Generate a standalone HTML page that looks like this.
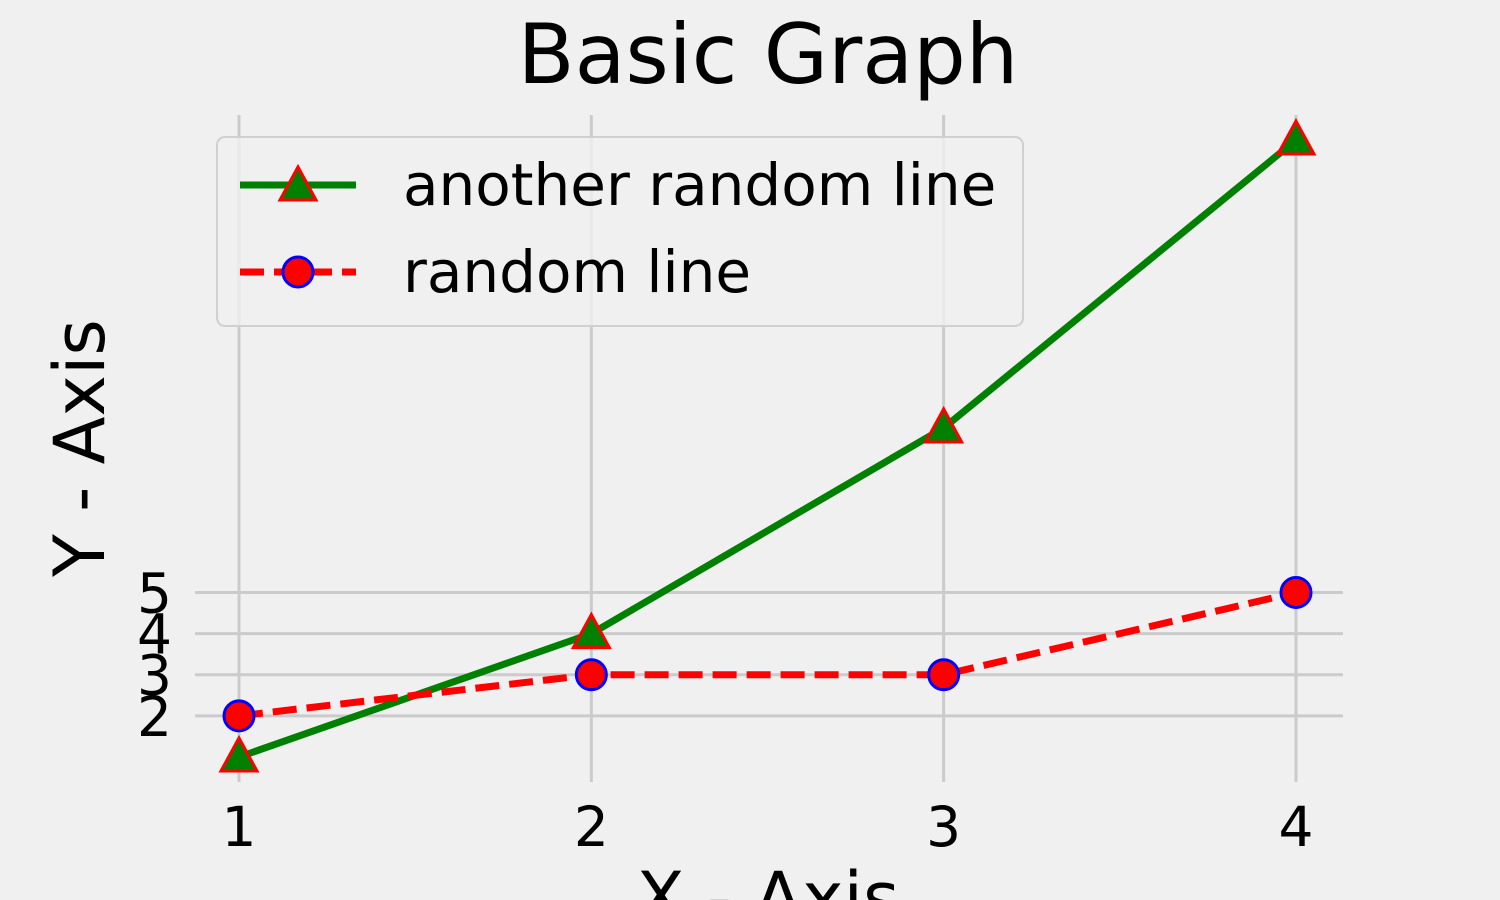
<!DOCTYPE html>
<html><head><meta charset="utf-8"><style>
body{margin:0;background:#f0f0f0;}
svg{display:block;font-family:"DejaVu Sans","Liberation Sans",sans-serif;}
</style></head><body>
<svg id="chart" width="1500" height="900">
<rect width="1500" height="900" fill="#f0f0f0"/>
<text x="768" y="83" font-size="83" text-anchor="middle">Basic Graph</text>
<g id="grid"></g><g id="ticks"></g><g id="series"></g>
<text x="0" y="0" font-size="70" text-anchor="middle" transform="translate(104,448) rotate(-90)">Y - Axis</text>
<text x="768" y="922" font-size="70" text-anchor="middle">X - Axis</text>
<g>
<rect x="217" y="137" width="806" height="189" rx="8" fill="#f0f0f0" fill-opacity="0.8" stroke="#d0d0d0" stroke-width="2"/>
<g>
<line x1="240" y1="185" x2="356" y2="185" stroke="green" stroke-width="7"/>
<polygon points="298,167 316,200 280,200" fill="green" stroke="red" stroke-width="3"/>
<text x="403" y="205" font-size="58">another random line</text></g>
<g>
<line x1="240" y1="272" x2="356" y2="272" stroke="red" stroke-width="7" stroke-dasharray="24,10"/>
<circle cx="298" cy="272" r="15" fill="red" stroke="blue" stroke-width="3"/>
<text x="403" y="292" font-size="58">random line</text></g>
</g>
</svg>
<script>
const xCats=[1,2,3,4];
const greenVals=[1,4,9,16];
const redVals=[2,3,3,5];
const yTicks=[2,3,4,5];
const xTicks=[1,2,3,4];
const NS="http://www.w3.org/2000/svg";
const sx=v=>239+(v-1)*352.33;
const sy=v=>757-(v-1)*41.13;
function mk(tag,attrs,parent){const e=document.createElementNS(NS,tag);for(const k in attrs)e.setAttribute(k,attrs[k]);document.getElementById(parent).appendChild(e);return e;}
xTicks.forEach(t=>{const l=mk('line',{x1:sx(t),x2:sx(t),y1:115,y2:782,stroke:'#cbcbcb','stroke-width':3},'grid');


const tx=mk('text',{x:sx(t),y:846,'font-size':55,'text-anchor':'middle'},'ticks');tx.textContent=t;

});
yTicks.forEach(t=>{const l=mk('line',{x1:195,x2:1343,y1:sy(t),y2:sy(t),stroke:'#cbcbcb','stroke-width':3},'grid');


const tx=mk('text',{x:172,y:sy(t)+20,'font-size':55,'text-anchor':'end'},'ticks');tx.textContent=t;

});
const gp=mk('polyline',{points:xCats.map((x,i)=>sx(x)+','+sy(greenVals[i])).join(' '),fill:'none',stroke:'green','stroke-width':7},'series');


const rp=mk('polyline',{points:xCats.map((x,i)=>sx(x)+','+sy(redVals[i])).join(' '),fill:'none',stroke:'red','stroke-width':7,'stroke-dasharray':'24,10'},'series');


xCats.forEach((x,i)=>{const X=sx(x),Y=sy(greenVals[i]);
const p=mk('polygon',{points:`${X},${Y-19} ${X+18},${Y+14} ${X-18},${Y+14}`,fill:'green',stroke:'red','stroke-width':3},'series');


const c=mk('circle',{cx:X,cy:sy(redVals[i]),r:15,fill:'red',stroke:'blue','stroke-width':3},'series');

});
</script>
</body></html>
